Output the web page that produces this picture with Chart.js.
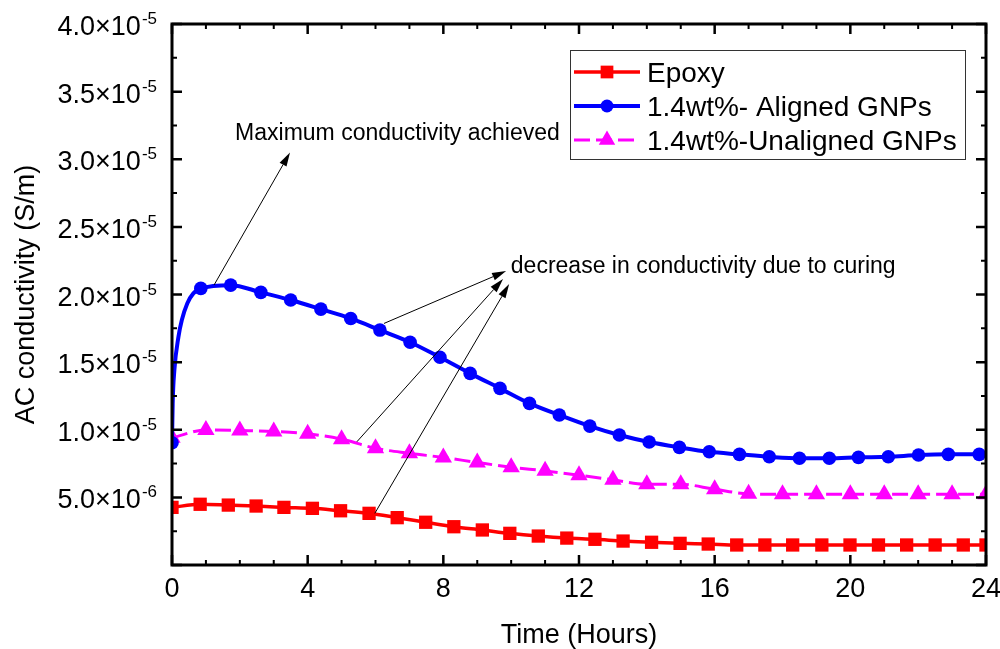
<!DOCTYPE html>
<html>
<head>
<meta charset="utf-8">
<title>AC conductivity during curing</title>
<script src="https://cdn.jsdelivr.net/npm/chart.js@4.4.1/dist/chart.umd.min.js"></script>
<style>
  html, body { margin: 0; padding: 0; background: #fff; }
  #wrap { width: 1000px; height: 649px; }
</style>
</head>
<body>
<div id="wrap"><canvas id="chart" width="1000" height="649"></canvas></div>
<script>
// time in hours, conductivity in units of 1e-6 S/m
var epoxyT = [0, 0.83, 1.66, 2.48, 3.30, 4.14, 4.97, 5.81, 6.64, 7.48, 8.31, 9.15, 9.96, 10.80, 11.64,
              12.47, 13.30, 14.14, 14.98, 15.81, 16.65, 17.48, 18.30, 19.16, 19.99, 20.83, 21.66, 22.50, 23.33, 24];
var epoxyV = [4.26, 4.49, 4.43, 4.36, 4.26, 4.19, 4.01, 3.82, 3.50, 3.16, 2.83, 2.59, 2.34, 2.14, 1.99,
              1.90, 1.77, 1.68, 1.60, 1.55, 1.48, 1.48, 1.48, 1.48, 1.48, 1.48, 1.48, 1.48, 1.48, 1.48];

var alignedT = [0, 0.85, 1.73, 2.62, 3.50, 4.39, 5.27, 6.13, 7.02, 7.90, 8.79, 9.67, 10.54, 11.42,
                12.32, 13.19, 14.07, 14.96, 15.84, 16.73, 17.61, 18.50, 19.38, 20.24, 21.12, 22.01, 22.89, 23.80];
var alignedV = [9.04, 20.45, 20.69, 20.16, 19.59, 18.92, 18.23, 17.37, 16.47, 15.36, 14.17, 13.06, 11.95, 11.09,
                10.27, 9.61, 9.09, 8.70, 8.37, 8.18, 8.00, 7.89, 7.89, 7.96, 8.00, 8.13, 8.18, 8.18];
// points of the aligned curve drawn without a marker (fast initial rise, end of run)
var alignedLineT = [0.02, 0.07, 0.19, 0.29, 0.45, 0.63, 24];
var alignedLineV = [11.95, 14.41, 16.87, 18.11, 19.34, 20.08, 8.18];

var unalignedT = [0, 1, 2, 3, 4, 5, 6, 7, 8, 9, 10, 11, 12, 13, 14, 15, 16, 17, 18, 19, 20, 21, 22, 23, 24];
var unalignedV = [9.40, 9.99, 9.94, 9.87, 9.70, 9.30, 8.63, 8.26, 7.95, 7.58, 7.23, 6.96, 6.64,
                  6.30, 5.97, 5.97, 5.60, 5.26, 5.23, 5.23, 5.23, 5.23, 5.23, 5.23, 5.23];

var seriesNames = ['Epoxy', '1.4wt%- Aligned GNPs', '1.4wt%-Unaligned GNPs'];
var xTickStep = 4;       // labelled hours
var yTickStep = 5e-6;    // labelled S/m

var UNIT = 1e-6;
var FONT = '"Liberation Sans", Arial, Helvetica, sans-serif';

function toPoints(ts, vs, marked) {
  var out = [];
  for (var i = 0; i < ts.length; i++) {
    out.push({ x: ts[i], y: vs[i] * UNIT, m: marked });
  }
  return out;
}

var epoxyData = toPoints(epoxyT, epoxyV, true);
var alignedData = toPoints(alignedT, alignedV, true)
  .concat(toPoints(alignedLineT, alignedLineV, false))
  .sort(function (a, b) { return a.x - b.x; });
var unalignedData = toPoints(unalignedT, unalignedV, true);

// arrows and notes, in data coordinates (hours, 1e-6 S/m)
var arrows = [
  { from: [1.24, 20.7], to: [3.48, 30.5] },
  { from: [6.25, 17.86], to: [9.85, 21.73] },
  { from: [5.45, 9.11], to: [9.76, 21.14] },
  { from: [5.98, 3.82], to: [9.94, 20.77] }
];
var notes = [
  { at: [1.86, 31.45], text: 'Maximum conductivity achieved' },
  { at: [9.99, 21.56], text: 'decrease in conductivity due to curing' }
];

function drawMarker(ctx, style, x, y, r) {
  ctx.beginPath();
  if (style === 'circle') {
    ctx.arc(x, y, r, 0, Math.PI * 2);
  } else if (style === 'rect') {
    var s = r * Math.SQRT1_2;
    ctx.rect(x - s, y - s, 2 * s, 2 * s);
  } else if (style === 'triangle') {
    var a = 0;
    ctx.moveTo(x + Math.sin(a) * r, y - Math.cos(a) * r);
    a += Math.PI * 2 / 3;
    ctx.lineTo(x + Math.sin(a) * r, y - Math.cos(a) * r);
    a += Math.PI * 2 / 3;
    ctx.lineTo(x + Math.sin(a) * r, y - Math.cos(a) * r);
    ctx.closePath();
  }
  ctx.fill();
}

// box frame with inward major/minor ticks on all four sides + y labels with exponents
var framePlugin = {
  id: 'frame',
  afterDatasetsDraw: function (chart) {
    var ctx = chart.ctx, a = chart.chartArea;
    var xs = chart.scales.x, ys = chart.scales.y;
    ctx.save();
    ctx.strokeStyle = '#000';

    for (var h = 0; h <= 24; h++) {
      var px = xs.getPixelForValue(h);
      var major = h % xTickStep === 0;
      var len = major ? 10 : 5;
      ctx.lineWidth = major ? 2.5 : 2;
      ctx.beginPath();
      ctx.moveTo(px, a.bottom); ctx.lineTo(px, a.bottom - len);
      ctx.moveTo(px, a.top); ctx.lineTo(px, a.top + len);
      ctx.stroke();
    }
    for (var k = 0; k <= 16; k++) {
      var py = ys.getPixelForValue(k * yTickStep / 2);
      var majorY = k % 2 === 0;
      var lenY = majorY ? 10 : 5;
      ctx.lineWidth = majorY ? 2.5 : 2;
      ctx.beginPath();
      ctx.moveTo(a.left, py); ctx.lineTo(a.left + lenY, py);
      ctx.moveTo(a.right, py); ctx.lineTo(a.right - lenY, py);
      ctx.stroke();
    }

    ctx.lineWidth = 3;
    ctx.strokeRect(a.left, a.top, a.right - a.left, a.bottom - a.top);

    // y tick labels like 2.0×10^-5
    ctx.fillStyle = '#000';
    ctx.textBaseline = 'alphabetic';
    ys.ticks.forEach(function (t) {
      if (t.value <= 0) return;
      var exp = Math.floor(Math.log10(t.value) + 1e-9);
      var mant = (t.value / Math.pow(10, exp)).toFixed(1);
      var py = ys.getPixelForValue(t.value);
      var right = a.left - 15;
      ctx.font = '17px ' + FONT;
      ctx.textAlign = 'right';
      var sup = '-' + Math.abs(exp);
      ctx.fillText(sup, right, py + 0);
      var supW = ctx.measureText(sup).width;
      ctx.font = '27px ' + FONT;
      ctx.fillText(mant + '\u00d710', right - supW - 1, py + 11);
    });
    ctx.restore();
  }
};

// legend box and annotation arrows
var overlayPlugin = {
  id: 'overlay',
  afterDraw: function (chart) {
    var ctx = chart.ctx;
    var xs = chart.scales.x, ys = chart.scales.y;
    ctx.save();

    // legend
    ctx.lineWidth = 1;
    ctx.strokeStyle = '#333';
    ctx.strokeRect(570.5, 50.5, 395, 109);
    var rows = [72, 106, 140];
    chart.data.datasets.forEach(function (ds, i) {
      var y = rows[i];
      ctx.strokeStyle = ds.borderColor;
      ctx.fillStyle = ds.backgroundColor;
      ctx.lineWidth = ds.borderWidth;
      ctx.setLineDash(ds.borderDash || []);
      ctx.beginPath();
      ctx.moveTo(574, y); ctx.lineTo(640, y);
      ctx.stroke();
      ctx.setLineDash([]);
      drawMarker(ctx, ds.pointStyle, 607, y, ds.legendRadius);
      ctx.fillStyle = '#000';
      ctx.font = '28px ' + FONT;
      ctx.textAlign = 'left';
      ctx.textBaseline = 'alphabetic';
      ctx.fillText(ds.label, 647, y + 10);
    });

    // arrows
    ctx.strokeStyle = '#000';
    ctx.fillStyle = '#000';
    ctx.lineWidth = 1;
    arrows.forEach(function (ar) {
      var x0 = xs.getPixelForValue(ar.from[0]), y0 = ys.getPixelForValue(ar.from[1] * UNIT);
      var x1 = xs.getPixelForValue(ar.to[0]), y1 = ys.getPixelForValue(ar.to[1] * UNIT);
      var ang = Math.atan2(y1 - y0, x1 - x0);
      var hl = 14, hw = 4;
      var bx = x1 - Math.cos(ang) * hl, by = y1 - Math.sin(ang) * hl;
      ctx.beginPath();
      ctx.moveTo(x0, y0); ctx.lineTo(bx, by);
      ctx.stroke();
      ctx.beginPath();
      ctx.moveTo(x1, y1);
      ctx.lineTo(bx - Math.sin(ang) * hw, by + Math.cos(ang) * hw);
      ctx.lineTo(bx + Math.sin(ang) * hw, by - Math.cos(ang) * hw);
      ctx.closePath();
      ctx.fill();
    });

    ctx.font = '23px ' + FONT;
    ctx.textAlign = 'left';
    ctx.textBaseline = 'alphabetic';
    notes.forEach(function (n) {
      ctx.fillText(n.text, xs.getPixelForValue(n.at[0]), ys.getPixelForValue(n.at[1] * UNIT));
    });
    ctx.restore();
  }
};

Chart.defaults.font.family = FONT;
Chart.defaults.color = '#000';

new Chart(document.getElementById('chart'), {
  type: 'line',
  data: {
    datasets: [
      {
        label: seriesNames[0],
        data: epoxyData,
        borderColor: '#ff0000',
        backgroundColor: '#ff0000',
        borderWidth: 3.5,
        pointStyle: 'rect',
        pointRadius: 9.4,
        legendRadius: 9,
        pointBorderWidth: 0,
        cubicInterpolationMode: 'monotone'
      },
      {
        label: seriesNames[1],
        data: alignedData,
        borderColor: '#0000ff',
        backgroundColor: '#0000ff',
        borderWidth: 4,
        pointStyle: 'circle',
        pointRadius: function (c) { return c.raw && c.raw.m ? 6.8 : 0; },
        legendRadius: 6.5,
        pointBorderWidth: 0,
        cubicInterpolationMode: 'monotone'
      },
      {
        label: seriesNames[2],
        data: unalignedData,
        borderColor: '#ff00ff',
        backgroundColor: '#ff00ff',
        borderWidth: 3,
        borderDash: [16, 6],
        pointStyle: 'triangle',
        pointRadius: 10,
        legendRadius: 9.5,
        pointBorderWidth: 0,
        cubicInterpolationMode: 'monotone'
      }
    ]
  },
  options: {
    responsive: false,
    animation: false,
    events: [],
    devicePixelRatio: 1,
    layout: { padding: { top: 24, right: 14, left: 0, bottom: 0 } },
    plugins: { legend: { display: false }, tooltip: { enabled: false } },
    scales: {
      x: {
        type: 'linear',
        min: 0,
        max: 24,
        ticks: { stepSize: xTickStep, font: { size: 27 }, color: '#000', padding: 8, maxRotation: 0, autoSkip: false },
        grid: { display: false, drawTicks: false },
        border: { display: false },
        title: { display: true, text: 'Time (Hours)', font: { size: 27, lineHeight: 1 }, color: '#000', padding: 0 },
        afterFit: function (s) { s.height = 84; s.paddingLeft = 0; s.paddingRight = 0; }
      },
      y: {
        type: 'linear',
        min: 0,
        max: 4e-5,
        ticks: { display: false, stepSize: yTickStep },
        grid: { display: false, drawTicks: false },
        border: { display: false },
        title: { display: true, text: 'AC conductivity (S/m)', font: { size: 27 }, color: '#000', padding: { top: 10, bottom: 0 } },
        afterFit: function (s) { s.width = 172; s.paddingTop = 0; s.paddingBottom = 0; }
      }
    }
  },
  plugins: [framePlugin, overlayPlugin]
});
</script>
</body>
</html>
